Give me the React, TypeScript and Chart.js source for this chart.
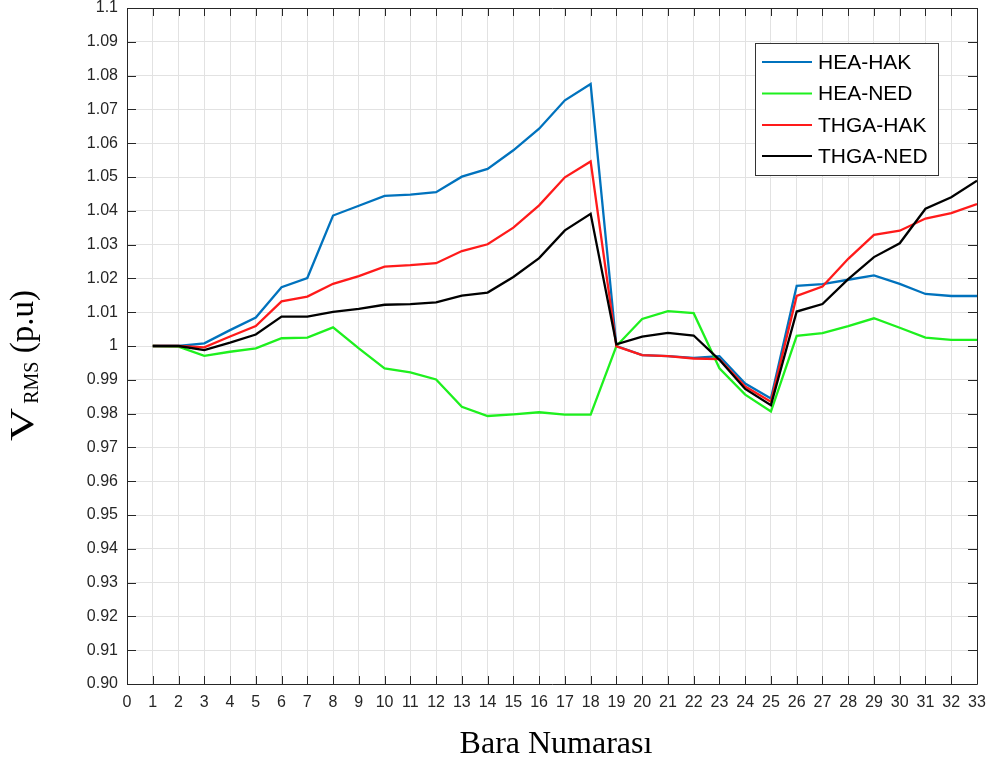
import React, { useEffect, useRef } from 'react';
import { Chart, registerables } from 'chart.js';

Chart.register(...registerables);

const busNumbers = [1, 2, 3, 4, 5, 6, 7, 8, 9, 10, 11, 12, 13, 14, 15, 16, 17, 18, 19, 20, 21, 22, 23, 24, 25, 26, 27, 28, 29, 30, 31, 32, 33];

const heaHak = [1.000, 1.000, 1.0008, 1.0047, 1.0084, 1.0174, 1.0201, 1.0386, 1.0415, 1.0444, 1.0448, 1.0455, 1.0501, 1.0524, 1.0579, 1.0643, 1.0727, 1.0775, 1.000, 0.9973, 0.9970, 0.9965, 0.9970, 0.9889, 0.9845, 1.0178, 1.0183, 1.0196, 1.0209, 1.0184, 1.0154, 1.0148, 1.0148];
const heaNed = [1.000, 0.9998, 0.9971, 0.9983, 0.9993, 1.0023, 1.0025, 1.0055, 0.9993, 0.9934, 0.9922, 0.9901, 0.9820, 0.9793, 0.9798, 0.9804, 0.9797, 0.9797, 1.000, 1.0080, 1.0103, 1.0097, 0.9934, 0.9856, 0.9806, 1.0030, 1.0038, 1.0059, 1.0082, 1.0054, 1.0025, 1.0018, 1.0018];
const thgaHak = [1.000, 1.000, 0.9996, 1.0028, 1.0059, 1.0132, 1.0146, 1.0184, 1.0207, 1.0235, 1.0239, 1.0245, 1.0281, 1.0301, 1.0350, 1.0416, 1.0499, 1.0546, 0.9999, 0.9973, 0.9970, 0.9963, 0.9961, 0.9880, 0.9835, 1.0148, 1.0176, 1.0258, 1.0329, 1.0341, 1.0377, 1.0393, 1.0420];
const thgaNed = [1.000, 1.000, 0.9988, 1.0010, 1.0034, 1.0087, 1.0087, 1.0101, 1.0110, 1.0122, 1.0124, 1.0129, 1.0149, 1.0158, 1.0204, 1.0260, 1.0342, 1.0391, 1.0005, 1.0028, 1.0039, 1.0031, 0.9959, 0.9873, 0.9825, 1.0102, 1.0124, 1.0198, 1.0263, 1.0304, 1.0406, 1.0440, 1.0489];

const seriesNames = ['HEA-HAK', 'HEA-NED', 'THGA-HAK', 'THGA-NED'];
const seriesColors = ['#0072BD', '#1EF01E', '#FF1A1A', '#000000'];

const xTickValues = [0, 1, 2, 3, 4, 5, 6, 7, 8, 9, 10, 11, 12, 13, 14, 15, 16, 17, 18, 19, 20, 21, 22, 23, 24, 25, 26, 27, 28, 29, 30, 31, 32, 33];
const yTickValues = [0.90, 0.91, 0.92, 0.93, 0.94, 0.95, 0.96, 0.97, 0.98, 0.99, 1.00, 1.01, 1.02, 1.03, 1.04, 1.05, 1.06, 1.07, 1.08, 1.09, 1.10];
const yTickLabels = ['0.90', '0.91', '0.92', '0.93', '0.94', '0.95', '0.96', '0.97', '0.98', '0.99', '1', '1.01', '1.02', '1.03', '1.04', '1.05', '1.06', '1.07', '1.08', '1.09', '1.1'];

const xTitle = 'Bara Numarası';
const yTitleMain = 'V';
const yTitleSub = 'RMS';
const yTitleRest = ' (p.u)';

const AXIS_COLOR = '#262626';
const GRID_COLOR = '#e2e2e2';
const TICK_FONT = { family: '"Liberation Sans", Arial, sans-serif', size: 16 };

const decorPlugin = {
  id: 'decor',
  afterDraw(chart: any) {
    const { ctx, chartArea } = chart;
    const { left, right, top, bottom } = chartArea;
    const xs = chart.scales.x;
    const ys = chart.scales.y;
    ctx.save();
    // box
    ctx.strokeStyle = AXIS_COLOR;
    ctx.lineWidth = 1;
    ctx.beginPath();
    ctx.rect(Math.round(left) + 0.5, Math.round(top) + 0.5, Math.round(right - left), Math.round(bottom - top));
    ctx.stroke();
    // inward ticks
    ctx.beginPath();
    xTickValues.forEach((v) => {
      const px = Math.round(xs.getPixelForValue(v)) + 0.5;
      ctx.moveTo(px, bottom);
      ctx.lineTo(px, bottom - 8);
      ctx.moveTo(px, top);
      ctx.lineTo(px, top + 8);
    });
    yTickValues.forEach((v) => {
      const py = Math.round(ys.getPixelForValue(v)) + 0.5;
      ctx.moveTo(left, py);
      ctx.lineTo(left + 9, py);
      ctx.moveTo(right, py);
      ctx.lineTo(right - 9, py);
    });
    ctx.stroke();

    // legend
    const lx = 755, ly = 43, lw = 183, lh = 132;
    ctx.fillStyle = '#ffffff';
    ctx.fillRect(lx, ly, lw, lh);
    ctx.strokeStyle = '#333333';
    ctx.lineWidth = 1;
    ctx.strokeRect(lx + 0.5, ly + 0.5, lw, lh);
    const rows = [62, 93.5, 125, 156];
    ctx.font = '21px "Liberation Sans", Arial, sans-serif';
    ctx.textBaseline = 'middle';
    ctx.textAlign = 'left';
    seriesNames.forEach((name, i) => {
      ctx.strokeStyle = seriesColors[i];
      ctx.lineWidth = 2.2;
      ctx.beginPath();
      ctx.moveTo(762, rows[i]);
      ctx.lineTo(812, rows[i]);
      ctx.stroke();
      ctx.fillStyle = '#000000';
      ctx.fillText(name, 818, rows[i] + 1);
    });

    // x title
    ctx.fillStyle = '#000000';
    ctx.font = '32px "Liberation Serif", "Times New Roman", serif';
    ctx.textAlign = 'center';
    ctx.textBaseline = 'alphabetic';
    ctx.fillText(xTitle, (left + right) / 2 + 4, 753);

    // y title
    ctx.save();
    ctx.translate(33, 441);
    ctx.rotate(-Math.PI / 2);
    ctx.textAlign = 'left';
    ctx.textBaseline = 'alphabetic';
    ctx.font = '34px "Liberation Serif", "Times New Roman", serif';
    const vw = ctx.measureText(yTitleMain).width;
    const vScale = 1.35;
    ctx.save();
    ctx.scale(vScale, 1);
    ctx.fillText(yTitleMain, 0, 0);
    ctx.restore();
    let cx = vw * vScale + 4;
    ctx.font = '20px "Liberation Serif", "Times New Roman", serif';
    ctx.fillText(yTitleSub, cx, 5);
    cx += ctx.measureText(yTitleSub).width;
    ctx.font = '33px "Liberation Serif", "Times New Roman", serif';
    ctx.fillText(yTitleRest, cx, 0);
    ctx.restore();

    ctx.restore();
  },
};

export default function App() {
  const canvasRef = useRef<HTMLCanvasElement | null>(null);

  useEffect(() => {
    const canvas = canvasRef.current;
    if (!canvas) return;
    const allSeries = [heaHak, heaNed, thgaHak, thgaNed];
    const chart = new Chart(canvas, {
      type: 'line',
      data: {
        datasets: allSeries.map((vals, i) => ({
          label: seriesNames[i],
          data: busNumbers.map((b, j) => ({ x: b, y: vals[j] })),
          borderColor: seriesColors[i],
          backgroundColor: seriesColors[i],
          borderWidth: 2.3,
          pointRadius: 0,
          fill: false,
          tension: 0,
          order: allSeries.length - i,
        })),
      },
      options: {
        responsive: false,
        animation: false,
        events: [],
        layout: { padding: { top: 8, right: 11, left: 0, bottom: 0 } },
        plugins: {
          legend: { display: false },
          tooltip: { enabled: false },
          title: { display: false },
        },
        scales: {
          x: {
            type: 'linear',
            min: 0,
            max: 33,
            afterBuildTicks: (scale: any) => {
              scale.ticks = xTickValues.map((v) => ({ value: v }));
            },
            afterFit: (scale: any) => {
              scale.height = 78;
              scale.paddingLeft = 0;
              scale.paddingRight = 0;
            },
            ticks: {
              autoSkip: false,
              maxRotation: 0,
              padding: 9,
              color: AXIS_COLOR,
              font: TICK_FONT,
              callback: (v: any) => String(v),
            },
            grid: { color: GRID_COLOR, lineWidth: 1, drawTicks: false },
            border: { display: false },
          },
          y: {
            type: 'linear',
            min: 0.9,
            max: 1.1,
            afterBuildTicks: (scale: any) => {
              scale.ticks = yTickValues.map((v) => ({ value: v }));
            },
            afterFit: (scale: any) => {
              scale.width = 127;
              scale.paddingTop = 0;
              scale.paddingBottom = 0;
            },
            ticks: {
              autoSkip: false,
              padding: 9,
              color: AXIS_COLOR,
              font: TICK_FONT,
              callback: (_v: any, i: number) => yTickLabels[i],
            },
            grid: { color: GRID_COLOR, lineWidth: 1, drawTicks: false },
            border: { display: false },
          },
        },
      },
      plugins: [decorPlugin],
    } as any);
    return () => chart.destroy();
  }, []);

  return (
    <div style={{ position: 'fixed', left: 0, top: 0, width: 988, height: 762, background: '#ffffff' }}>
      <canvas ref={canvasRef} width={988} height={762} style={{ display: 'block' }} />
    </div>
  );
}
